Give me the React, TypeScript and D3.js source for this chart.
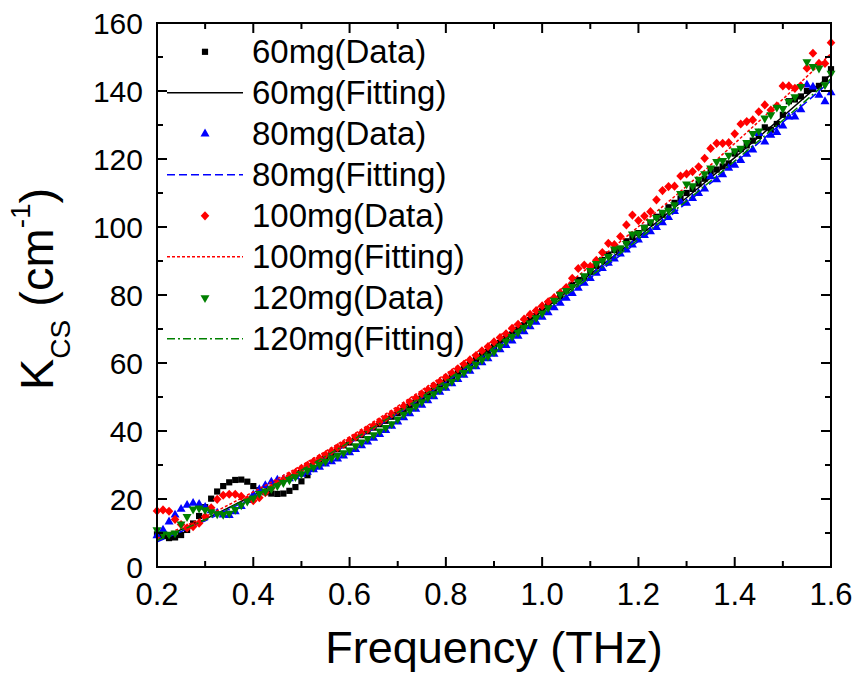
import React from "react";
import * as d3 from "d3";

// ---------- DATA ----------
const FREQ = [
  0.2, 0.2125, 0.225, 0.2375, 0.25, 0.2625, 0.275, 0.2875,
  0.3, 0.3125, 0.325, 0.3375, 0.35, 0.3625, 0.375, 0.3875,
  0.4, 0.4125, 0.425, 0.4375, 0.45, 0.4625, 0.475, 0.4875,
  0.5, 0.5125, 0.525, 0.5375, 0.55, 0.5625, 0.575, 0.5875,
  0.6, 0.6125, 0.625, 0.6375, 0.65, 0.6625, 0.675, 0.6875,
  0.7, 0.7125, 0.725, 0.7375, 0.75, 0.7625, 0.775, 0.7875,
  0.8, 0.8125, 0.825, 0.8375, 0.85, 0.8625, 0.875, 0.8875,
  0.9, 0.9125, 0.925, 0.9375, 0.95, 0.9625, 0.975, 0.9875,
  1.0, 1.0125, 1.025, 1.0375, 1.05, 1.0625, 1.075, 1.0875,
  1.1, 1.1125, 1.125, 1.1375, 1.15, 1.1625, 1.175, 1.1875,
  1.2, 1.2125, 1.225, 1.2375, 1.25, 1.2625, 1.275, 1.2875,
  1.3, 1.3125, 1.325, 1.3375, 1.35, 1.3625, 1.375, 1.3875,
  1.4, 1.4125, 1.425, 1.4375, 1.45, 1.4625, 1.475, 1.4875,
  1.5, 1.5125, 1.525, 1.5375, 1.55, 1.5625, 1.575, 1.5875,
  1.6,
];

const K60 = [
  9.6, 9.1, 8.5, 8.7, 9.4, 10.9, 12.8, 15.0, 17.6,
  20.1, 22.2, 23.8, 24.9, 25.6, 25.7, 25.1, 23.8,
  22.6, 22.0, 21.6, 21.5, 21.6, 22.4, 23.5, 25.2,
  27.0, 28.9, 30.5, 32.4, 33.6, 34.6, 35.8, 36.6,
  37.9, 38.8, 39.9, 41.0, 42.0, 43.0, 44.2, 45.3,
  46.5, 47.6, 48.8, 49.9, 51.1, 52.4, 53.6, 54.8,
  56.0, 57.3, 58.4, 59.6, 60.9, 62.2, 63.3, 64.7,
  65.9, 67.2, 68.4, 69.8, 71.1, 72.6, 73.8, 75.3,
  76.8, 78.3, 79.6, 81.4, 83.0, 84.4, 85.3, 86.8,
  88.6, 90.3, 91.9, 93.2, 93.6, 95.8, 97.0, 98.2,
  99.8, 101.2, 103.0, 103.6, 105.8, 107.1, 108.4, 110.0,
  111.2, 112.8, 114.2, 116.3, 116.9, 117.8, 118.7, 121.6,
  122.9, 124.0, 125.4, 126.8, 129.3, 128.6, 130.3, 133.0,
  137.0, 137.5, 138.4, 140.0, 140.6, 141.5, 143.4, 146.4,
];

const K80 = [
  9.2, 10.9, 13.3, 15.3, 17.0, 18.2, 18.8, 18.5, 17.6,
  16.6, 15.9, 15.3, 15.2, 16.3, 17.8, 19.6, 21.3,
  22.8, 24.0, 25.0, 25.6, 25.8, 26.0, 26.6, 27.3,
  27.9, 28.6, 29.4, 30.3, 31.0, 31.8, 32.7, 33.6,
  34.6, 35.7, 36.8, 37.9, 39.0, 40.2, 41.4, 42.7,
  43.9, 45.1, 46.4, 47.6, 48.9, 50.1, 51.4, 52.6,
  53.9, 55.2, 56.4, 57.6, 58.9, 60.1, 61.3, 62.6,
  63.9, 65.2, 66.5, 67.9, 69.2, 70.7, 72.0, 73.5,
  74.8, 76.3, 77.6, 79.1, 80.5, 82.0, 83.5, 84.9,
  86.4, 87.8, 89.4, 90.6, 92.1, 93.3, 94.7, 96.2,
  97.5, 98.6, 99.9, 101.3, 102.8, 104.6, 107.4, 107.0,
  108.4, 109.9, 111.2, 114.8, 113.9, 115.4, 117.3, 118.2,
  119.6, 121.4, 122.7, 127.5, 125.0, 127.0, 127.8, 129.7,
  132.4, 132.4, 134.5, 141.8, 141.2, 138.8, 136.9, 139.5,
];

const K100 = [
  16.5, 16.8, 16.4, 14.0, 12.5, 11.5, 11.9, 12.9, 14.8,
  17.4, 19.9, 21.1, 21.4, 21.4, 20.8, 19.8, 19.5,
  20.4, 21.9, 23.2, 24.5, 25.6, 26.7, 27.8, 29.0,
  29.9, 31.0, 32.0, 33.0, 34.1, 35.1, 36.1, 37.2,
  38.3, 39.4, 40.5, 41.6, 42.7, 43.8, 45.0, 46.1,
  47.3, 48.5, 49.7, 50.9, 52.1, 53.3, 54.5, 55.8,
  57.0, 58.3, 59.6, 60.9, 62.2, 63.6, 64.8, 66.2,
  67.5, 68.6, 70.2, 71.4, 72.9, 74.3, 75.4, 76.8,
  78.0, 79.2, 80.6, 82.2, 84.9, 87.8, 88.8, 88.4,
  90.2, 92.5, 95.2, 94.8, 97.2, 100.6, 103.5, 101.9,
  103.2, 104.5, 108.0, 110.7, 111.9, 112.0, 115.0, 115.6,
  116.3, 117.7, 120.2, 123.1, 124.6, 124.6, 124.8, 127.4,
  130.3, 131.0, 131.5, 133.9, 135.9, 134.4, 135.6, 141.5,
  141.5, 140.8, 141.5, 146.7, 151.1, 148.1, 148.1, 154.2,
];

const K120 = [
  10.9, 9.7, 9.6, 10.0, 12.6, 14.8, 17.0, 17.3, 16.8,
  16.2, 15.6, 15.4, 15.8, 16.9, 18.2, 19.3, 20.3,
  21.6, 22.3, 23.0, 23.9, 24.8, 25.6, 26.5, 27.4,
  28.4, 29.3, 30.2, 31.1, 32.0, 32.8, 33.6, 34.4,
  35.6, 36.7, 37.8, 38.9, 40.0, 41.0, 42.1, 43.5,
  44.9, 46.1, 47.3, 48.6, 49.8, 50.9, 52.2, 53.3,
  54.6, 55.9, 57.2, 58.4, 59.6, 60.9, 62.0, 63.3,
  64.9, 66.4, 67.8, 69.0, 70.4, 71.7, 73.3, 74.6,
  76.2, 78.4, 80.2, 81.3, 82.5, 83.9, 85.6, 87.2,
  89.2, 90.1, 91.3, 93.5, 93.8, 95.1, 97.9, 98.1,
  99.8, 101.5, 102.8, 104.3, 104.9, 106.5, 109.8, 112.6,
  112.1, 114.0, 115.6, 117.3, 119.2, 119.5, 121.1, 122.4,
  123.1, 124.8, 127.5, 128.2, 132.0, 133.0, 135.2, 134.8,
  136.9, 138.3, 141.3, 148.6, 147.2, 146.7, 141.8, 145.2,
];

const FIT_FREQ = [0.2, 0.3, 0.4, 0.5, 0.6, 0.7, 0.8, 0.9, 1.0, 1.1, 1.2, 1.3, 1.4, 1.5, 1.6];
const FIT60 = [8.05, 14.1, 21.1, 28.8, 37.1, 45.9, 55.3, 65.1, 75.4, 86.1, 97.1, 108.6, 120.4, 132.5, 144.9];
const FIT80 = [7.4, 13.6, 20.6, 28.2, 36.4, 45.1, 54.4, 64.1, 74.3, 84.9, 95.8, 107.1, 118.8, 130.8, 143.0];
const FIT100 = [8.4, 14.8, 22.1, 29.9, 38.3, 47.3, 56.8, 66.8, 77.4, 88.5, 100.1, 112.0, 124.6, 137.6, 151.0];
const FIT120 = [7.8, 13.9, 20.9, 28.5, 36.8, 45.5, 54.8, 64.6, 74.8, 85.4, 96.4, 107.7, 119.4, 131.4, 143.6];

const X_TICKS = [0.2, 0.4, 0.6, 0.8, 1.0, 1.2, 1.4, 1.6];
const X_MINOR = [0.3, 0.5, 0.7, 0.9, 1.1, 1.3, 1.5];
const Y_TICKS = [0, 20, 40, 60, 80, 100, 120, 140, 160];
const Y_MINOR = [10, 30, 50, 70, 90, 110, 130, 150];

const SERIES_NAMES = ["60mg", "80mg", "100mg", "120mg"];

// ---------- STYLE ----------
const W = 858;
const H = 674;
const FONT = "'Liberation Sans', Arial, Helvetica, sans-serif";

const x = d3.scaleLinear().domain([0.2, 1.6]).range([157, 831]);
const y = d3.scaleLinear().domain([0, 160]).range([567, 23]);

const squarePath = (s: number) => `M${-s / 2},${-s / 2}h${s}v${s}h${-s}Z`;
const triUpPath = (s: number) => {
  const h = s * 0.866;
  return `M0,${(-2 * h) / 3}L${s / 2},${h / 3}L${-s / 2},${h / 3}Z`;
};
const triDownPath = (s: number) => {
  const h = s * 0.866;
  return `M0,${(2 * h) / 3}L${s / 2},${-h / 3}L${-s / 2},${-h / 3}Z`;
};
const diamondPath = (w: number, h: number) => `M0,${-h / 2}L${w / 2},0L0,${h / 2}L${-w / 2},0Z`;

const series = [
  { name: SERIES_NAMES[0], data: K60, fit: FIT60, color: "#000000", marker: squarePath(6.2), dash: "none" },
  { name: SERIES_NAMES[1], data: K80, fit: FIT80, color: "#0000ff", marker: triUpPath(9), dash: "8 4" },
  { name: SERIES_NAMES[2], data: K100, fit: FIT100, color: "#ff0000", marker: diamondPath(8.6, 9.2), dash: "3 2" },
  { name: SERIES_NAMES[3], data: K120, fit: FIT120, color: "#008000", marker: triDownPath(9), dash: "8 3 2 3" },
];

const line = d3
  .line<[number, number]>()
  .x((d) => x(d[0]))
  .y((d) => y(d[1]))
  .curve(d3.curveMonotoneX);

export default function App() {
  const L = x.range()[0];
  const R = x.range()[1];
  const T = y.range()[1];
  const B = y.range()[0];
  const major = 10;
  const minor = 6;

  const legendRows: { label: string; kind: "data" | "fit"; s: (typeof series)[number] }[] = [];
  series.forEach((s) => {
    legendRows.push({ label: `${s.name}(Data)`, kind: "data", s });
    legendRows.push({ label: `${s.name}(Fitting)`, kind: "fit", s });
  });

  return (
    <svg
      width={W}
      height={H}
      viewBox={`0 0 ${W} ${H}`}
      style={{ position: "absolute", left: 0, top: 0, background: "#fff" }}
      fontFamily={FONT}
    >
      <rect x={0} y={0} width={W} height={H} fill="#fff" />

      {/* series */}
      {series.map((s) => (
        <g key={s.name}>
          <g fill={s.color}>
            {FREQ.map((f, i) => (
              <path key={i} d={s.marker} transform={`translate(${x(f)},${y(s.data[i])})`} />
            ))}
          </g>
          <path
            d={line(FIT_FREQ.map((f, i) => [f, s.fit[i]] as [number, number])) || ""}
            fill="none"
            stroke={s.color}
            strokeWidth={1.5}
            strokeDasharray={s.dash}
          />
        </g>
      ))}

      {/* frame */}
      <rect x={L} y={T} width={R - L} height={B - T} fill="none" stroke="#000" strokeWidth={2} />

      {/* ticks */}
      <g stroke="#000" strokeWidth={2}>
        {X_TICKS.map((t) => (
          <g key={`xt${t}`}>
            <line x1={x(t)} x2={x(t)} y1={B} y2={B - major} />
            <line x1={x(t)} x2={x(t)} y1={T} y2={T + major} />
          </g>
        ))}
        {X_MINOR.map((t) => (
          <g key={`xm${t}`}>
            <line x1={x(t)} x2={x(t)} y1={B} y2={B - minor} />
            <line x1={x(t)} x2={x(t)} y1={T} y2={T + minor} />
          </g>
        ))}
        {Y_TICKS.map((t) => (
          <g key={`yt${t}`}>
            <line x1={L} x2={L + major} y1={y(t)} y2={y(t)} />
            <line x1={R} x2={R - major} y1={y(t)} y2={y(t)} />
          </g>
        ))}
        {Y_MINOR.map((t) => (
          <g key={`ym${t}`}>
            <line x1={L} x2={L + minor} y1={y(t)} y2={y(t)} />
            <line x1={R} x2={R - minor} y1={y(t)} y2={y(t)} />
          </g>
        ))}
      </g>

      {/* tick labels */}
      <g fontSize={31} fill="#000" textAnchor="middle">
        {X_TICKS.map((t) => (
          <text key={`xl${t}`} x={x(t)} y={605}>
            {t.toFixed(1)}
          </text>
        ))}
      </g>
      <g fontSize={30} fill="#000" textAnchor="end">
        {Y_TICKS.map((t) => (
          <text key={`yl${t}`} x={143} y={y(t) + 10.7}>
            {t}
          </text>
        ))}
      </g>

      {/* axis titles */}
      <text x={(L + R) / 2} y={663} fontSize={45} textAnchor="middle" fill="#000">
        Frequency (THz)
      </text>
      <text transform="rotate(-90)" x={-390} y={53} fontSize={47} fill="#000">
        K
        <tspan fontSize={28} dy={17}>CS</tspan>
        <tspan fontSize={47} dy={-17}> (cm</tspan>
        <tspan fontSize={28} dy={-23}>-1</tspan>
        <tspan fontSize={47} dy={23}>)</tspan>
      </text>

      {/* legend */}
      <g>
        {legendRows.map((r, i) => {
          const base = 63.3 + 41 * i;
          const cy = base - 11.5;
          return (
            <g key={r.label}>
              {r.kind === "data" ? (
                <path d={r.s.marker} fill={r.s.color} transform={`translate(205,${cy})`} />
              ) : (
                <line
                  x1={167}
                  x2={243}
                  y1={cy}
                  y2={cy}
                  stroke={r.s.color}
                  strokeWidth={1.5}
                  strokeDasharray={r.s.dash}
                />
              )}
              <text x={252} y={base} fontSize={33} fill="#000">
                {r.label}
              </text>
            </g>
          );
        })}
      </g>
    </svg>
  );
}
